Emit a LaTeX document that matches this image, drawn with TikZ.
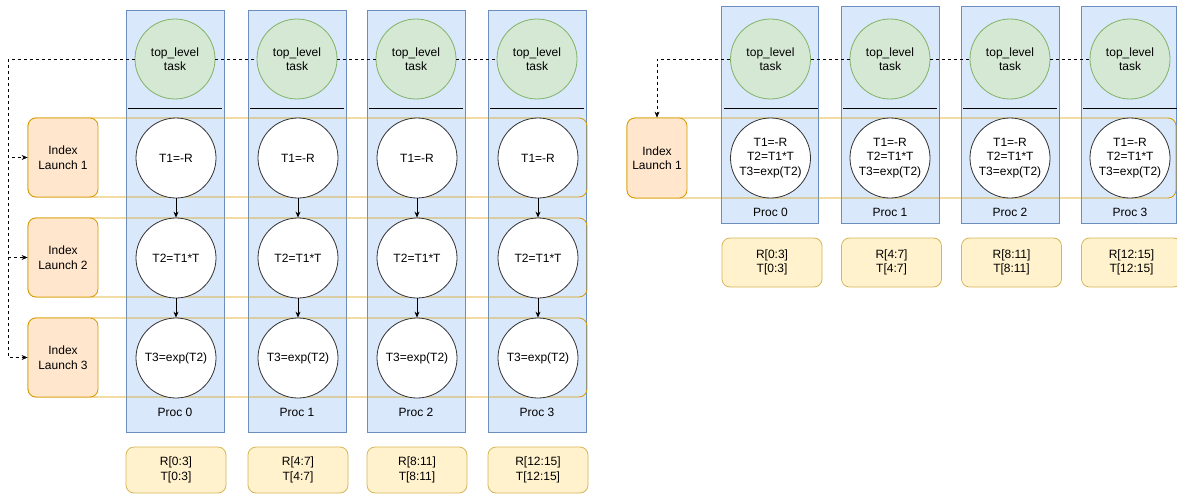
\documentclass[tikz,border=0pt]{standalone}
\usepackage{fontspec}
\setmainfont{Liberation Sans}
\usetikzlibrary{arrows.meta,positioning}

\definecolor{procfill}{HTML}{DAE8FC}
\definecolor{procline}{HTML}{6C8EBF}
\definecolor{taskfill}{HTML}{D5E8D4}
\definecolor{taskline}{HTML}{82B366}
\definecolor{ilfill}{HTML}{FFE6CC}
\definecolor{illine}{HTML}{D79B00}
\definecolor{datafill}{HTML}{FFF2CC}
\definecolor{dataline}{HTML}{D6B656}

\tikzset{
  every node/.style={font=\fontsize{12}{14.5}\selectfont, align=center, inner sep=0pt},
  proc/.style={draw=procline, fill=procfill, line width=0.8pt},
  toptask/.style={circle, draw=taskline, fill=taskfill, minimum size=80pt, line width=0.8pt},
  subtask/.style={circle, draw=black!80, fill=white, minimum size=80pt, line width=0.8pt},
  launch/.style={draw=illine, fill=ilfill, rounded corners=8pt, line width=0.8pt},
  launchrow/.style={draw=illine, rounded corners=8pt, line width=0.8pt},
  databox/.style={draw=dataline, fill=datafill, rounded corners=8pt, line width=0.8pt, minimum width=100pt},
  flow/.style={-{Stealth[length=6pt,width=5pt]}, line width=0.8pt},
  link/.style={dashed, line width=0.6pt},
}

\begin{document}
\begin{tikzpicture}[x=1pt,y=-1pt]
  \useasboundingbox (0,0) rectangle (1177,495);

  % ---- left: one index launch per task ----
  \foreach \i/\x in {0/175,1/297,2/416,3/537}{
    \node[proc, minimum width=98pt, minimum height=422pt] (p\i) at (\x,221) {};
    \draw[line width=0.8pt] (\x-47,108) -- (\x+47,108);
    \node (pl\i) at (\x,412) {Proc \i};
  }
  \foreach \r/\y in {1/157.5,2/257.5,3/357.5}
    \draw[launchrow] (28,\y-39.5) rectangle (587,\y+39.5);
  \foreach \i/\x in {0/175,1/297,2/416,3/537}{
    \node[toptask] (g\i) at (\x,59) {top\_level\\task};
    \node[subtask] (a\i) at (\x+1,158) {T1=-R};
    \node[subtask] (b\i) at (\x+1,258) {T2=T1*T};
    \node[subtask] (c\i) at (\x+1,358) {T3=exp(T2)};
    \draw[flow] (a\i) -- (b\i);
    \draw[flow] (b\i) -- (c\i);
    \node[databox, minimum height=46pt] (d\i) at (\x+1,470) {R[\the\numexpr4*\i\relax:\the\numexpr4*\i+3\relax]\\T[\the\numexpr4*\i\relax:\the\numexpr4*\i+3\relax]};
  }
  \foreach \r/\y in {1/157.5,2/257.5,3/357.5}
    \node[launch, minimum width=70pt, minimum height=79pt] (il\r) at (63,\y) {Index\\Launch \r};
  \foreach \i/\j in {0/1,1/2,2/3}
    \draw[link] (g\i) -- (g\j);
  \coordinate (bus) at (8,59);
  \draw[link] (g0.west) -- (bus);
  \foreach \r in {1,2,3}
    \draw[link,-{Stealth[length=6pt,width=5pt]}] (bus) |- (il\r.west);

  % ---- right: one fused index launch ----
  \foreach \i/\x/\w in {0/770.5/97,1/890/98,2/1010/98,3/1130/95}{
    \node[proc, minimum width=\w pt, minimum height=217pt] (rp\i) at (\x+\w/2-49,114.5) {};
    \draw[line width=0.8pt] (\x-47,108) -- (\x+47,108);
    \node (rpl\i) at (\x,212) {Proc \i};
  }
  \draw[launchrow] (627,118) rectangle (1176,198);
  \foreach \i/\x in {0/770.5,1/890,2/1010,3/1130}{
    \node[toptask] (rg\i) at (\x,59) {top\_level\\task};
    \node[subtask] (rt\i) at (\x,158) {T1=-R\\T2=T1*T\\T3=exp(T2)};
    \node[databox, minimum height=49pt] (rd\i) at (\x+1.5,262.5) {R[\the\numexpr4*\i\relax:\the\numexpr4*\i+3\relax]\\T[\the\numexpr4*\i\relax:\the\numexpr4*\i+3\relax]};
  }
  \node[launch, minimum width=60pt, minimum height=80pt] (ril1) at (657,158) {Index\\Launch 1};
  \foreach \i/\j in {0/1,1/2,2/3}
    \draw[link] (rg\i) -- (rg\j);
  \draw[link,-{Stealth[length=6pt,width=5pt]}] (rg0.west) -| (ril1.north);
\end{tikzpicture}
\end{document}
